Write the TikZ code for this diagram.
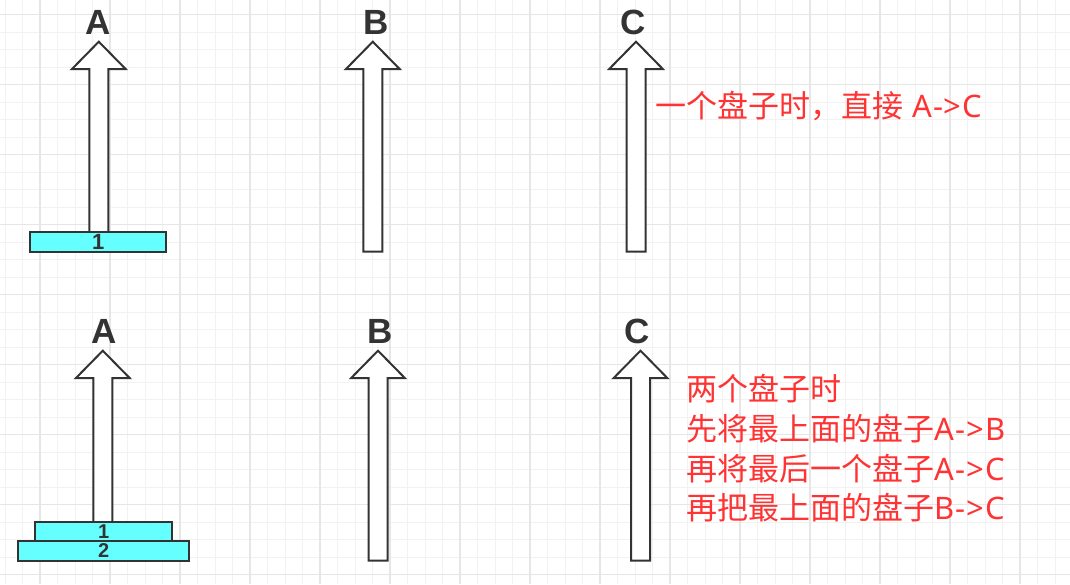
\documentclass[tikz,border=0pt]{standalone}
\usepackage{fontspec}
\setmainfont{Liberation Sans}
\newfontfamily\cjk{Noto Sans CJK SC}
\newfontfamily\lat[LetterSpace=3]{Noto Sans}
\definecolor{ink}{HTML}{333333}
\definecolor{disk}{HTML}{66FFFF}
\definecolor{note}{HTML}{FF3333}
\definecolor{gminor}{HTML}{F2F2F2}
\definecolor{gmajor}{HTML}{E6E6E6}
\newcommand\pegarrow[3]{% center x, tip y, bottom y
  \draw[pegshape] (#1,#2) -- ({#1+27},{#2+27.5}) -- ({#1+9.5},{#2+27.5}) -- ({#1+9.5},#3)
    -- ({#1-9.5},#3) -- ({#1-9.5},{#2+27.5}) -- ({#1-27},{#2+27.5}) -- cycle;}
\begin{document}
\begin{tikzpicture}[x=1pt,y=-1pt,
  peglabel/.style={font=\bfseries\fontsize{35}{35}\selectfont, text=ink, inner sep=0pt},
  diskbox/.style={draw=ink, line width=2pt, fill=disk, inner sep=0pt, font=\bfseries\fontsize{22}{22}\selectfont, text=ink},
  smalldisk/.style={font=\bfseries\fontsize{20}{20}\selectfont},
  pegshape/.style={draw=ink, line width=2pt, fill=white, line join=miter},
  notetext/.style={font=\fontsize{31}{31}\selectfont, text=note, inner sep=0pt, anchor=base west}]
\useasboundingbox (0,0) rectangle (1070,584);
\fill[white] (0,0) rectangle (1070,584);
% grid
\foreach \i in {0,...,61} \draw[gminor, line width=1pt] ({5+17.5*\i},0) -- ({5+17.5*\i},584);
\foreach \i in {0,...,34} \draw[gminor, line width=1pt] (0,{-3+17.5*\i}) -- (1070,{-3+17.5*\i});
\foreach \i in {0,...,15} \draw[gmajor, line width=1.3pt] ({40+70*\i},0) -- ({40+70*\i},584);
\foreach \i in {0,...,8} \draw[gmajor, line width=1.3pt] (0,{14.5+70*\i}) -- (1070,{14.5+70*\i});

% top row
\node[peglabel] (ta) at (98.5,22.5) {A};
\node[peglabel] (tb) at (376,22.5) {B};
\node[peglabel] (tc) at (633.5,22.5) {C};
\pegarrow{98.8}{41.7}{242}
\pegarrow{372.8}{41.7}{251.5}
\pegarrow{636}{41.7}{251.5}
\node[diskbox, minimum width=136pt, minimum height=20pt] (td1) at (98.3,242) {1};
\node[notetext] (tnote) at (655.5,117) {{\cjk 一个盘子时，直接} {\lat A->C}};

% bottom row
\node[peglabel] (ba) at (103.8,331.8) {A};
\node[peglabel] (bb) at (380.5,331.8) {B};
\node[peglabel] (bc) at (637.5,331.8) {C};
\pegarrow{102.8}{350.7}{545}
\pegarrow{378}{350.7}{560.5}
\pegarrow{640.5}{350.7}{560.5}
\node[diskbox, smalldisk, minimum width=137pt, minimum height=20pt] (bd1) at (103.6,531.7) {1};
\node[diskbox, smalldisk, minimum width=170.5pt, minimum height=20pt] (bd2) at (103.6,551) {2};
\node[notetext] (bn1) at (686.5,400) {\cjk 两个盘子时};
\node[notetext] (bn2) at (686.5,440) {{\cjk 先将最上面的盘子}{\lat A->B}};
\node[notetext] (bn3) at (686.5,480) {{\cjk 再将最后一个盘子}{\lat A->C}};
\node[notetext] (bn4) at (686.5,519.5) {{\cjk 再把最上面的盘子}{\lat B->C}};
\end{tikzpicture}
\end{document}
